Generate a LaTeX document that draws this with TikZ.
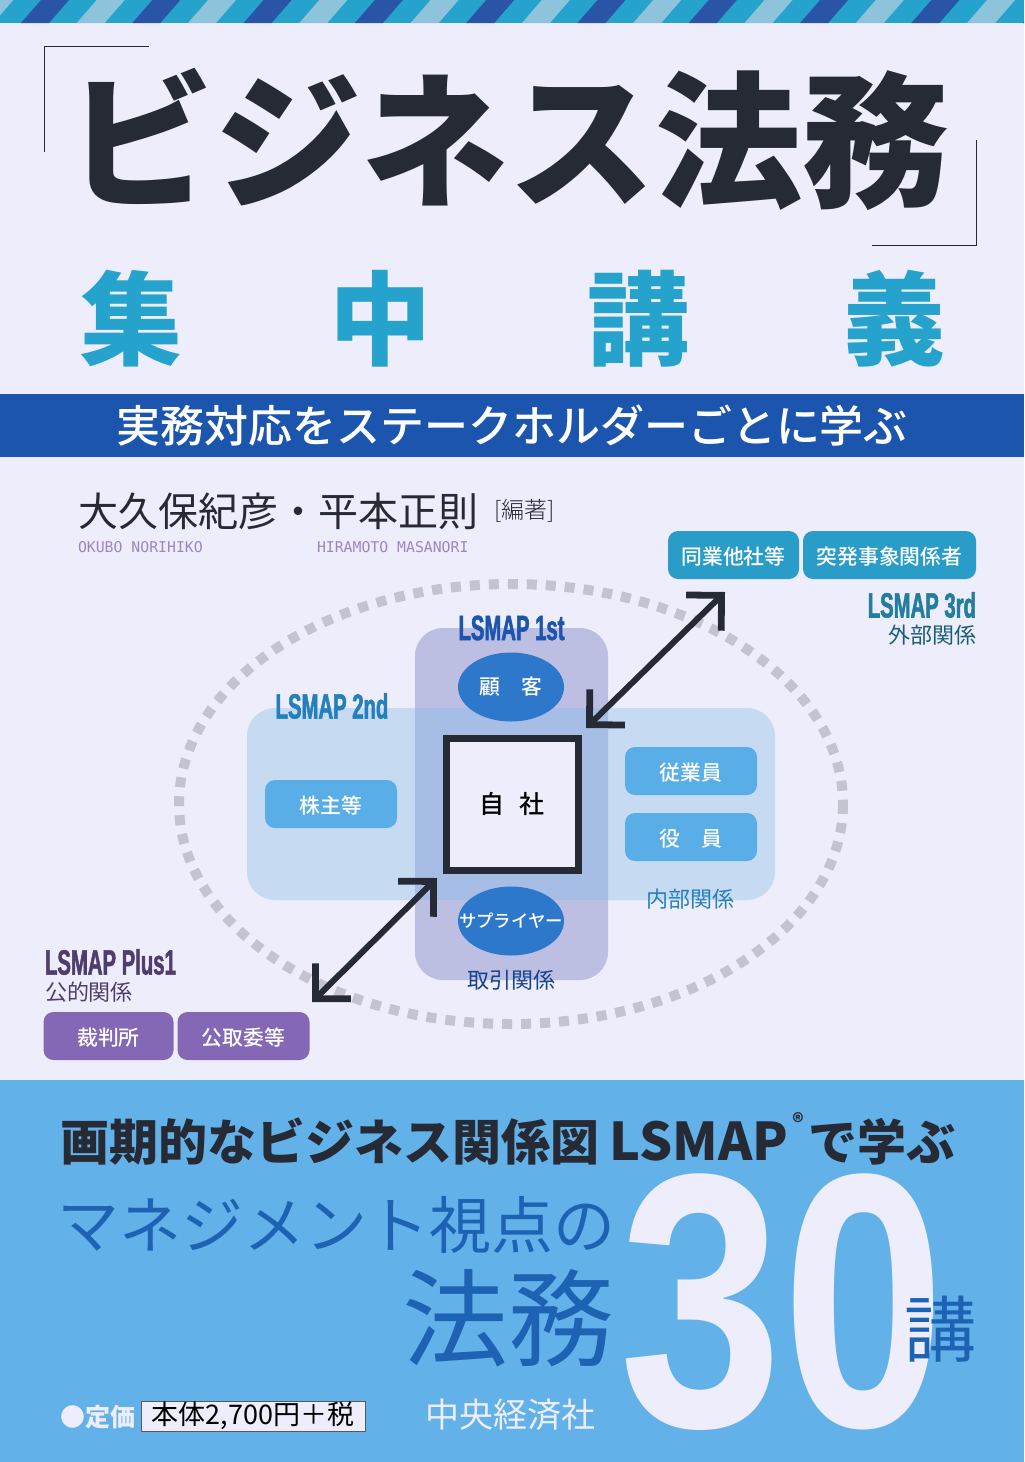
\documentclass[tikz,border=0pt]{standalone}
\usepackage{fontspec}
\usepackage{xcolor}
\usetikzlibrary{arrows.meta, positioning, shapes}
\setmainfont{Noto Sans CJK JP}
\newfontfamily\heavyface{Noto Sans CJK JP Black}
\newfontfamily\midface{Noto Sans CJK JP Medium}
\newfontfamily\thinface{Noto Sans CJK JP Light}
\newfontfamily\lsmapface[FakeStretch=0.58,FakeBold=1.5]{Liberation Sans Bold}
\newfontfamily\bigface[FakeStretch=0.81]{Liberation Sans Bold}
\newfontfamily\romanface{DejaVu Sans Mono}
\definecolor{paper}{HTML}{EEEDFB}
\definecolor{stripeteal}{HTML}{25A3CC}
\definecolor{stripedark}{HTML}{2A55A6}
\definecolor{stripelight}{HTML}{8DC4DC}
\definecolor{bandblue}{HTML}{1B55AD}
\definecolor{skyblue}{HTML}{62B2E9}
\definecolor{inkdark}{HTML}{262A35}
\definecolor{deepblue}{HTML}{1E62B4}
\definecolor{boxblue}{HTML}{5AAEE8}
\definecolor{boxteal}{HTML}{2A9CC8}
\definecolor{boxviolet}{HTML}{8467B5}
\definecolor{ovalblue}{HTML}{2E78CC}
\definecolor{panelfirst}{HTML}{BCBEE2}
\definecolor{panelsecond}{HTML}{C6DBF2}
\definecolor{paneloverlap}{HTML}{A6BEE6}
\definecolor{orbitgrey}{HTML}{C4C4D0}
\newcommand{\fsz}[1]{\fontsize{#1pt}{#1pt}\selectfont}
\begin{document}
\begin{tikzpicture}[
    x=0.5pt, y=-0.5pt,
    node distance=2pt,
    every node/.style={inner sep=0pt, outer sep=0pt},
    panel/.style={rounded corners=14pt},
    tagbox/.style={rounded corners=5pt, text=white, font=\midface\fsz{10.4}, minimum height=24pt, text height=10.4pt, text depth=1pt, align=center},
    oval/.style={ellipse, fill=ovalblue, text=white, font=\midface\fsz{10.4}, minimum width=53pt, minimum height=34.5pt},
    lsmap/.style={font=\lsmapface\fsz{17.5}},
    relation/.style={font=\fsz{11}},
    arrow/.style={{Straight Barb[length=12.5pt,width=25pt,line width=3.4pt]}-{Straight Barb[length=12.5pt,width=25pt,line width=3.4pt]}, line width=3pt, color=inkdark}
]
\useasboundingbox (0,0) rectangle (1024,1462);
\fill[paper] (0,0) rectangle (1024,1462);

% Stripes
\fill[stripeteal] (0,0) rectangle (1024,23);
\begin{scope}
\clip (0,0) rectangle (1024,23);
\foreach \k in {-1,...,9} {
    \fill[stripedark] ({21+111.3*\k},23) -- ++(28,0) -- ++(20,-23) -- ++(-28,0) -- cycle;
    \fill[stripelight] ({76.7+111.3*\k},23) -- ++(28,0) -- ++(20,-23) -- ++(-28,0) -- cycle;
}
\end{scope}

% Title
\node (title) [font=\heavyface\fsz{73.5}, text=inkdark] at (509,139) {ビジネス法務};
\draw[inkdark, line width=0.9pt] (149,46.5) -- (44.5,46.5) -- (44.5,152);
\draw[inkdark, line width=0.9pt] (872,245.5) -- (976.5,245.5) -- (976.5,140);
\foreach \t/\x/\n in {集/131/c1, 中/380/c2, 講/638/c3, 義/894/c4}
    \node (\n) [font=\bfseries\fsz{51}, text=stripeteal] at (\x,319) {\t};

% Band
\node (band) [fill=bandblue, minimum width=512pt, minimum height=31.5pt, text=white, font=\midface\fsz{22}] at (512,425.5) {実務対応をステークホルダーごとに学ぶ};

% Authors
\node (authors) [anchor=west, font=\fsz{20}, text=inkdark] at (78,511) {大久保紀彦・平本正則};
\node (role) [anchor=west, font=\thinface\fsz{11.5}, text=inkdark] at (494,511) {[編著]};
\node (okubo) [anchor=west, font=\romanface\fsz{7.4}, text=boxviolet!80] at (78,547) {OKUBO NORIHIKO};
\node (hiramoto) [anchor=west, font=\romanface\fsz{7.4}, text=boxviolet!80] at (317,547) {HIRAMOTO MASANORI};

% Orbit
\draw[color=orbitgrey, line width=5pt, dash pattern=on 5pt off 4.5pt] (511,804) ellipse (332 and 220);

% Panels
\node (second) [panel, fill=panelsecond, minimum width=264pt, minimum height=96pt] at (511,804) {};
\node (first) [panel, fill=panelfirst, minimum width=96.5pt, minimum height=176pt] at (511.5,804) {};
\node (overlap) [fill=paneloverlap, minimum width=96.5pt, minimum height=96pt] at (511.5,804) {};

% Centre
\node (company) [draw=inkdark, line width=3.5pt, fill=paper, minimum width=66pt, minimum height=66pt, font=\midface\fsz{12.5}, text=black] at (512,804) {\raisebox{-1pt}{自\hspace{0.6em}社}};
\node (customer) [oval] at (511,687) {\raisebox{-1pt}{\makebox[0pt]{顧\hspace{1em}客}}};
\node (supplier) [oval, font=\midface\fsz{8.7}] at (511,921) {\raisebox{-1pt}{\makebox[0pt]{サプライヤー}}};

% Inner boxes
\node (holders) [tagbox, fill=boxblue, minimum width=66pt] at (331,804) {株主等};
\node (staff) [tagbox, fill=boxblue, minimum width=66pt] at (691,771) {従業員};
\node (officers) [tagbox, fill=boxblue, minimum width=66pt, below=9pt of staff] {役\hspace{1em}員};

% Outer boxes
\node (peers) [tagbox, fill=boxteal, minimum width=65.5pt] at (733.5,555) {同業他社等};
\node (incident) [tagbox, fill=boxteal, minimum width=86.5pt, right=2pt of peers] {突発事象関係者};
\node (court) [tagbox, fill=boxviolet, minimum width=65pt] at (108.5,1036) {裁判所};
\node (ftc) [tagbox, fill=boxviolet, minimum width=66pt, right=2pt of court] {公取委等};

% Labels
\node (first-label) [lsmap, text=bandblue] at (511.5,628) {LSMAP 1st};
\node (second-label) [lsmap, text=boxteal!60!bandblue] at (332,706) {LSMAP 2nd};
\node (third-label) [lsmap, text=boxteal!80!black, anchor=east] at (976,605) {LSMAP 3rd};
\node (plus-label) [lsmap, text=boxviolet!60!black, anchor=west] at (45,962) {LSMAP Plus1};
\node (outer-rel) [relation, text=boxteal!60!black, anchor=east] at (976,635) {外部関係};
\node (inner-rel) [relation, text=boxteal!60!bandblue] at (690,899) {内部関係};
\node (trade-rel) [relation, text=bandblue!80!black] at (511,980) {取引関係};
\node (public-rel) [relation, text=boxviolet!60!black, anchor=west] at (45,992) {公的関係};

% Arrows
\coordinate (peers-end) at (725,592);
\coordinate (company-ne) at (586,728);
\coordinate (company-sw) at (437,878);
\coordinate (court-end) at (312,1002);
\draw [arrow] (peers-end) -- (company-ne);
\draw [arrow] (company-sw) -- (court-end);

% Lower band
\fill[skyblue] (0,1080) rectangle (1024,1462);
\node (slogan) [font=\bfseries\fsz{24.5}, text=inkdark, anchor=west] at (61,1139) {画期的なビジネス関係図\hspace{5pt}{\fsz{26}LSMAP}\makebox[10pt]{\raisebox{0.6em}{\fsz{11}®}}で学ぶ};
\node (thirty) [font=\bigface\fsz{181}, text=paper] at (783,1302) {30};
\node (mgmt) [font=\fsz{31}, text=deepblue, anchor=west] at (57,1225) {マネジメント視点の};
\node (houmu) [font=\fsz{53}, text=deepblue, anchor=east] at (614,1318) {法務};
\node (kou) [font=\fsz{36}, text=deepblue] at (940,1329) {講};
\node (price) [font=\bfseries\fsz{12.5}, text=paper, anchor=west] at (61,1417) {●定価};
\node (pricebox) [draw=black!65, line width=0.5pt, fill=paper, minimum width=112pt, minimum height=15pt, font=\fsz{13.5}, text=black] at (253,1416) {本体2,700円＋税};
\node (publisher) [font=\fsz{17}, text=paper] at (510,1415) {中央経済社};
\end{tikzpicture}
\end{document}
